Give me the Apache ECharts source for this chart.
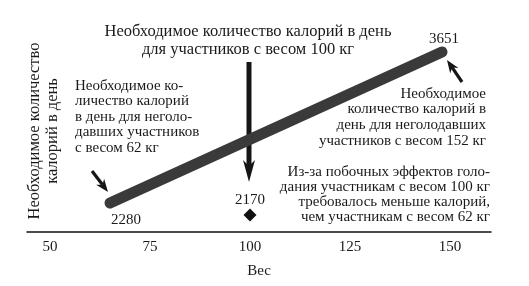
<!DOCTYPE html>
<html><head><meta charset="utf-8">
<script src="https://cdn.jsdelivr.net/npm/echarts@6/dist/echarts.min.js"></script>
<style>html,body{margin:0;padding:0;background:#fff}#c{width:529px;height:286px}</style>
</head><body><div id="c"></div>
<script>
// Data
const lineWeights = [65, 148];
const lineCalories = [2280, 3651];
const dietWeight = [100];
const dietCalories = [2170];
const xTicks = [50, 75, 100, 125, 150];

const FONT = '"Liberation Serif", "DejaVu Serif", serif';
const chart = echarts.init(document.getElementById('c'), null, {renderer: 'canvas'});

function arrow(tail, tip, shaftW, headL, headW, notch) {
  const dx = tip[0]-tail[0], dy = tip[1]-tail[1];
  const len = Math.sqrt(dx*dx+dy*dy), ux = dx/len, uy = dy/len, px = -uy, py = ux;
  const base = [tip[0]-ux*headL, tip[1]-uy*headL];
  const nb = [tip[0]-ux*(headL-notch), tip[1]-uy*(headL-notch)];
  return [
    {type:'line', shape:{x1:tail[0], y1:tail[1], x2:nb[0], y2:nb[1]}, style:{stroke:'#161616', lineWidth:shaftW}},
    {type:'polygon', shape:{points:[tip, [base[0]+px*headW, base[1]+py*headW], nb, [base[0]-px*headW, base[1]-py*headW]]}, style:{fill:'#161616'}}
  ];
}

const txt = {fontFamily: FONT, fontSize: 15, fill: '#1a1a1a'};
const labelShift = [[16, 0], [2, 0]];

chart.setOption({
  animation: false,
  grid: {left: 27, right: 38, top: 10, bottom: 54},
  xAxis: {
    type: 'value', min: 44.25, max: 160.25,
    name: 'Вес', nameLocation: 'middle', nameGap: 32,
    nameTextStyle: {fontFamily: FONT, fontSize: 15, color: '#1a1a1a'},
    axisLine: {show: true, lineStyle: {color: '#111', width: 1.5}},
    axisTick: {show: false},
    splitLine: {show: false},
    axisLabel: {customValues: xTicks, fontFamily: FONT, fontSize: 15, color: '#1a1a1a', margin: 8}
  },
  yAxis: {
    type: 'value', min: 2016.7, max: 4032.3,
    name: 'Необходимое количество\nкалорий в день', nameLocation: 'middle', nameGap: -35, nameRotate: 90,
    nameTextStyle: {fontFamily: FONT, fontSize: 16.5, color: '#1a1a1a', lineHeight: 18, padding: [0, 20, 0, 0]},
    axisLine: {show: false}, axisTick: {show: false}, axisLabel: {show: false}, splitLine: {show: false}
  },
  series: [
    {
      type: 'line',
      lineStyle: {color: '#3a3a3a', width: 11, cap: 'round'},
      symbol: 'circle', symbolSize: 1, itemStyle: {color: '#3a3a3a'},
      label: {show: true, fontFamily: FONT, fontSize: 15, color: '#1a1a1a', formatter: p => String(p.value[1])},
      labelLayout: p => ({dx: labelShift[p.dataIndex][0], dy: labelShift[p.dataIndex][1]}),
      data: [
        {value: [lineWeights[0], lineCalories[0]], label: {position: 'bottom', distance: 9}},
        {value: [lineWeights[1], lineCalories[1]], label: {position: 'top', distance: 5}}
      ]
    },
    {
      type: 'scatter',
      data: dietWeight.map((w, i) => [w, dietCalories[i]]),
      symbol: 'diamond', symbolSize: [13, 13],
      itemStyle: {color: '#111', opacity: 1},
      label: {show: true, position: 'top', distance: 1, fontFamily: FONT, fontSize: 15, color: '#1a1a1a', formatter: p => String(p.value[1])}
    }
  ],
  graphic: [
    {type: 'text', x: 248, y: 41, style: Object.assign({}, txt, {text: 'Необходимое количество калорий в день\nдля участников с весом 100 кг', textAlign: 'center', textVerticalAlign: 'middle', lineHeight: 18, fontSize: 16.5})},
    {type: 'text', x: 75, y: 78, style: Object.assign({}, txt, {text: 'Необходимое ко-\nличество калорий\nв день для неголо-\nдавших участников\nс весом 62 кг', textAlign: 'left', textVerticalAlign: 'top', lineHeight: 15.5})},
    {type: 'text', x: 486, y: 86, style: Object.assign({}, txt, {text: 'Необходимое\nколичество калорий в\nдень для неголодавших\nучастников с весом 152 кг', textAlign: 'right', textVerticalAlign: 'top', lineHeight: 15.7})},
    {type: 'text', x: 490, y: 164, style: Object.assign({}, txt, {text: 'Из-за побочных эффектов голо-\nдания участникам с весом 100 кг\nтребовалось меньше калорий,\nчем участникам с весом 62 кг', textAlign: 'right', textVerticalAlign: 'top', lineHeight: 15.3})}
  ].concat(arrow([249, 62], [249, 182], 5, 22, 6, 6))
   .concat(arrow([92, 171], [108, 192], 3.2, 13, 5, 4))
   .concat(arrow([462, 82], [447, 60], 3.2, 13, 5, 4))
});
</script></body></html>
